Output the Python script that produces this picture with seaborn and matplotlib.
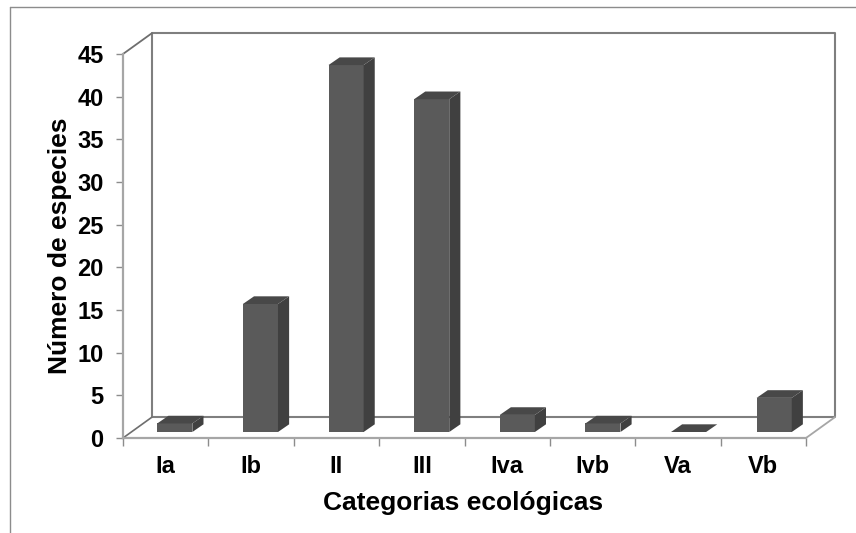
import pandas as pd
import matplotlib
matplotlib.use("Agg")
import matplotlib.pyplot as plt
from matplotlib.lines import Line2D
from matplotlib.patches import Polygon
import seaborn as sns

# Values
categories = ['Ia', 'Ib', 'II', 'III', 'Iva', 'Ivb', 'Va', 'Vb']
species = [1, 15, 43, 39, 2, 1, 0, 4]
y_ticks = [0, 5, 10, 15, 20, 25, 30, 35, 40, 45]

data = pd.DataFrame({'categoria': categories, 'especies': species})

sns.set_theme(style="white")
plt.rcParams['font.family'] = ['Liberation Sans', 'DejaVu Sans']
plt.rcParams['font.weight'] = 'bold'

W, H = 856, 533
fig = plt.figure(figsize=(W / 100, H / 100), dpi=100)


# pixel box (from top left) to figure fractions
def px_box(left, top, right, bottom):
    return [left / W, 1 - bottom / H, (right - left) / W, (bottom - top) / H]


# -------------------------------
# Front axis plane, labels and walls
# -------------------------------
ax = fig.add_axes(px_box(123, 54, 806, 438))
ax.set_xlim(0, 8)
ax.set_ylim(0, 45)
ax.patch.set_alpha(0)
for side in ['top', 'right']:
    ax.spines[side].set_visible(False)
for side in ['left', 'bottom']:
    ax.spines[side].set_color('#a6a6a6')
    ax.spines[side].set_linewidth(1.6)

ax.set_yticks(y_ticks)
ax.set_xticks(range(len(categories) + 1))
ax.set_xticklabels([])
ax.set_xticks([i + 0.5 for i in range(len(categories))], minor=True)
ax.set_xticklabels(categories, minor=True)
ax.tick_params(axis='y', left=True, length=5, width=1, color='#8c8c8c', labelsize=17, pad=9,
               labelcolor='black')
ax.tick_params(axis='x', which='major', bottom=True, length=5.5, width=1, color='#8c8c8c')
ax.tick_params(axis='x', which='minor', bottom=False, labelsize=17, pad=8, labelcolor='black')

ax.set_xlabel("Categorias ecológicas", fontsize=19, fontweight='bold', color='black')
ax.set_ylabel("Número de especies", fontsize=19, fontweight='bold', color='black')
ax.xaxis.set_label_coords(0.498, -0.138)
ax.yaxis.set_label_coords(-0.074, 0.5)

# 3D walls, offset in axis units
wall_dx = 0.34
wall_dy = 2.45
wall_color = '#7f7f7f'
ax.plot([wall_dx, wall_dx, 8 + wall_dx, 8 + wall_dx, wall_dx],
        [wall_dy, 45 + wall_dy, 45 + wall_dy, wall_dy, wall_dy],
        color=wall_color, lw=1.5, clip_on=False, zorder=1)
ax.plot([0, wall_dx], [45, 45 + wall_dy], color='#6e6e6e', lw=1.3, clip_on=False, zorder=1)
ax.plot([0, wall_dx], [0, wall_dy], color='#6e6e6e', lw=1.2, clip_on=False, zorder=1)
ax.plot([8, 8 + wall_dx], [0, wall_dy], color='#a6a6a6', lw=1.3, clip_on=False, zorder=1)

# -------------------------------
# Bars
# -------------------------------
bar_ax = fig.add_axes(px_box(132, 48, 817, 432))
bar_ax.patch.set_alpha(0)
sns.barplot(data=data, x='categoria', y='especies', order=categories, color='#5a5a5a',
            saturation=1, width=0.41, linewidth=0, ax=bar_ax)
bar_ax.set_xlim(-0.5, len(categories) - 0.5)
bar_ax.set_ylim(0, 45)
bar_ax.axis('off')

# Side and top faces of each bar
depth_x = 0.13
depth_y = 0.9
for bar in list(bar_ax.patches):
    x0 = bar.get_x()
    x1 = x0 + bar.get_width()
    h = bar.get_height()
    side = [(x1, 0), (x1 + depth_x, depth_y), (x1 + depth_x, h + depth_y), (x1, h)]
    top = [(x0, h), (x1, h), (x1 + depth_x, h + depth_y), (x0 + depth_x, h + depth_y)]
    bar_ax.add_patch(Polygon(side, closed=True, facecolor='#404040', edgecolor='none', clip_on=False))
    bar_ax.add_patch(Polygon(top, closed=True, facecolor='#484848', edgecolor='none', clip_on=False))

# Outer chart frame (only top and left show in the picture)
frame = '#8c8c8c'
fig.add_artist(Line2D([9.5 / W, 9.5 / W], [0, 1 - 6.5 / H], color=frame, lw=1))
fig.add_artist(Line2D([9.5 / W, 1], [1 - 6.5 / H, 1 - 6.5 / H], color=frame, lw=1))

fig.savefig("out.png", dpi=100)
